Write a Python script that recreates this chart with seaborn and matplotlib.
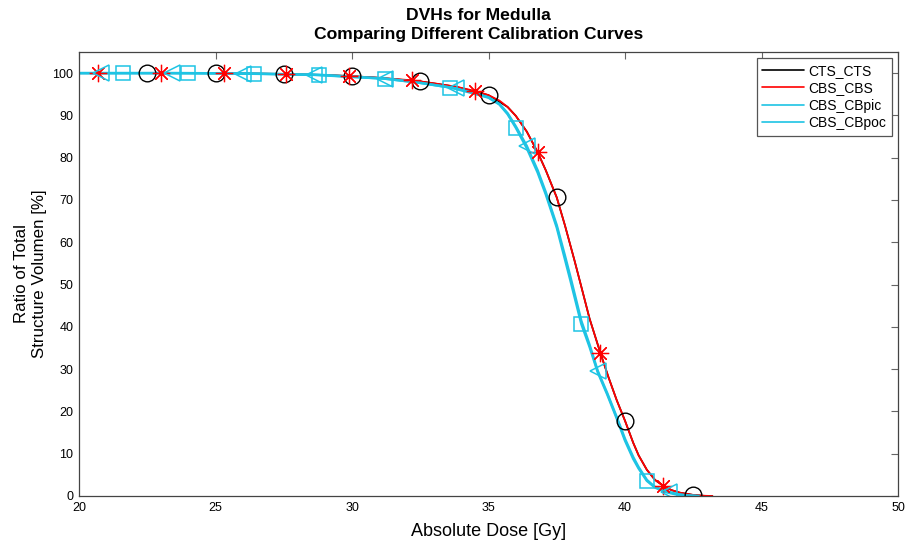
import numpy as np
import pandas as pd
import matplotlib
matplotlib.use("Agg")
import matplotlib.pyplot as plt
import seaborn as sns

# ---- dose-volume histogram data (dose in Gy, volume in %) ----
cts_dose = [20.0, 22.5, 25.0, 27.5, 29.0, 30.0, 31.0, 32.5, 33.8, 35.0, 35.7, 36.0,
            36.4, 36.8, 37.1, 37.5, 37.8, 38.15, 38.4, 38.7, 39.1, 39.4, 39.7, 40.0,
            40.3, 40.5, 40.8, 41.1, 41.4, 41.7, 42.0, 42.5, 42.9, 43.2]
cts_vol = [100, 100, 100, 99.8, 99.55, 99.3, 98.9, 98.05, 96.8, 94.8, 92.0, 89.9,
           86.2, 81.3, 77.0, 70.6, 64.0, 55.7, 49.5, 42.0, 33.8, 28.0, 22.6, 17.8,
           12.6, 9.6, 6.2, 3.8, 2.4, 1.4, 0.8, 0.25, 0.05, 0.0]
cts_marks = [22.5, 25.0, 27.5, 30.0, 32.5, 35.0, 37.5, 40.0, 42.5]

cbs_dose = [20.0, 20.7, 23.0, 25.3, 27.6, 29.0, 29.9, 31.0, 32.2, 33.0, 33.8, 34.5,
            35.0, 35.4, 35.7, 36.0, 36.4, 36.8, 37.1, 37.5, 37.8, 38.15, 38.4, 38.7,
            39.1, 39.4, 39.7, 40.0, 40.3, 40.5, 40.8, 41.1, 41.4, 41.7, 42.0, 42.5,
            42.9, 43.2]
cbs_vol = [100, 100, 100, 100, 99.8, 99.55, 99.3, 98.9, 98.3, 97.6, 96.8, 95.8,
           94.8, 93.5, 92.0, 89.9, 86.2, 81.3, 77.0, 70.6, 64.0, 55.7, 49.5, 42.0,
           33.8, 28.0, 22.6, 17.8, 12.6, 9.6, 6.2, 3.8, 2.4, 1.4, 0.8, 0.25,
           0.05, 0.0]
cbs_marks = [20.7, 23.0, 25.3, 27.6, 29.9, 32.2, 34.5, 36.8, 39.1, 41.4]

pic_dose = [20.0, 20.8, 23.4, 26.0, 28.6, 31.2, 32.4, 33.8, 34.4, 35.0, 35.4, 35.7,
            36.0, 36.4, 36.8, 37.1, 37.5, 37.8, 38.0, 38.4, 38.7, 39.0, 39.35, 39.7,
            40.0, 40.3, 40.5, 40.8, 41.1, 41.6, 41.9, 42.3, 42.7]
pic_vol = [100, 100, 100, 99.9, 99.6, 98.7, 97.8, 96.4, 95.4, 94.3, 92.7, 90.5,
           87.4, 82.8, 77.0, 71.8, 64.0, 56.8, 51.8, 41.4, 35.8, 29.6, 24.3, 18.6,
           13.5, 9.2, 6.8, 3.8, 2.1, 1.0, 0.45, 0.12, 0.0]
pic_marks = [20.8, 23.4, 26.0, 28.6, 31.2, 33.8, 36.4, 39.0, 41.6]

poc_dose = [20.0, 21.6, 24.0, 26.4, 28.8, 31.2, 32.4, 33.6, 34.4, 35.0, 35.4, 35.7,
            36.0, 36.4, 36.8, 37.1, 37.5, 37.8, 38.0, 38.4, 38.7, 39.0, 39.35, 39.7,
            40.0, 40.3, 40.5, 40.8, 41.1, 41.5, 41.9, 42.3, 42.6]
poc_vol = [100, 100, 100, 99.9, 99.6, 98.7, 97.8, 96.6, 95.3, 94.2, 92.6, 90.3,
           87.1, 82.3, 76.5, 71.3, 63.5, 56.0, 51.0, 40.7, 35.3, 29.3, 24.0, 18.3,
           13.1, 8.8, 6.5, 3.6, 2.0, 0.9, 0.35, 0.1, 0.0]
poc_marks = [21.6, 24.0, 26.4, 28.8, 31.2, 33.6, 36.0, 38.4, 40.8]

series_names = ["CTS_CTS", "CBS_CBS", "CBS_CBpic", "CBS_CBpoc"]
x_ticks = [20, 25, 30, 35, 40, 45, 50]
y_ticks = [0, 10, 20, 30, 40, 50, 60, 70, 80, 90, 100]

sns.set_style("white")
plt.rcParams["font.family"] = ["Liberation Sans", "DejaVu Sans"]
plt.rcParams["text.color"] = "black"
plt.rcParams["axes.labelcolor"] = "black"

frames = []
for name, d, v, m in zip(series_names,
                         [cts_dose, cbs_dose, pic_dose, poc_dose],
                         [cts_vol, cbs_vol, pic_vol, poc_vol],
                         [cts_marks, cbs_marks, pic_marks, poc_marks]):
    f = pd.DataFrame({"dose": d, "vol": v})
    f["series"] = name
    f["mark"] = f["dose"].isin(m)
    frames.append(f)
df = pd.concat(frames, ignore_index=True)

styles = {
    "CTS_CTS":   dict(color="#000000", lw=1.2, marker="o", ms=12, mew=1.0),
    "CBS_CBS":   dict(color="#ff0000", lw=1.3, marker=(8, 2, 0), ms=12.5, mew=0.9),
    "CBS_CBpic": dict(color="#1ec4e4", lw=1.8, marker="<", ms=12, mew=1.1),
    "CBS_CBpoc": dict(color="#1ec4e4", lw=1.8, marker="s", ms=10, mew=1.1),
}

fig = plt.figure(figsize=(9.09, 5.43), dpi=100)
ax = fig.add_axes([79 / 909, 1 - 496 / 543, (898 - 79) / 909, (496 - 52) / 543])

for name in series_names:
    st = styles[name]
    sub = df[df["series"] == name]
    sns.lineplot(data=sub, x="dose", y="vol", sort=False, estimator=None,
                 color=st["color"], linewidth=st["lw"], label=name, ax=ax)

for name in series_names:
    st = styles[name]
    pts = df[(df["series"] == name) & df["mark"]]
    sns.lineplot(data=pts, x="dose", y="vol", sort=False, estimator=None,
                 linestyle="none", marker=st["marker"], markersize=st["ms"],
                 markerfacecolor="none", markeredgecolor=st["color"],
                 markeredgewidth=st["mew"], color=st["color"], ax=ax)

ax.set_xlim(20, 50)
ax.set_ylim(0, 105)
ax.set_xticks(x_ticks)
ax.set_yticks(y_ticks)
ax.set_xticklabels([str(t) for t in x_ticks])
ax.set_yticklabels([str(t) for t in y_ticks])
ax.tick_params(direction="in", length=5, width=0.8, color="#666666",
               labelsize=9, top=True, right=True, labelcolor="black", pad=4)
for sp in ax.spines.values():
    sp.set_visible(True)
    sp.set_color("#444444")
    sp.set_linewidth(0.9)

ax.set_xlabel("Absolute Dose [Gy]", fontsize=13, labelpad=7, color="black")
ax.set_ylabel("Ratio of Total\nStructure Volumen [%]", fontsize=12.2,
              labelpad=4, linespacing=1.25, color="black")
ax.set_title("DVHs for Medulla\nComparing Different Calibration Curves",
             fontsize=12.6, fontweight="bold", pad=9.5, linespacing=1.3,
             x=0.4875, color="black")

leg = ax.legend(loc="upper right", fontsize=10, frameon=True, fancybox=False,
                edgecolor="#555555", framealpha=1, handlelength=3.0,
                handletextpad=0.3, borderaxespad=0.45, labelspacing=0.25,
                borderpad=0.4)
leg.get_frame().set_linewidth(0.9)
for line in leg.get_lines():
    line.set_linewidth(1.2)
for txt in leg.get_texts():
    txt.set_color("black")

fig.savefig("out.png", dpi=100)
